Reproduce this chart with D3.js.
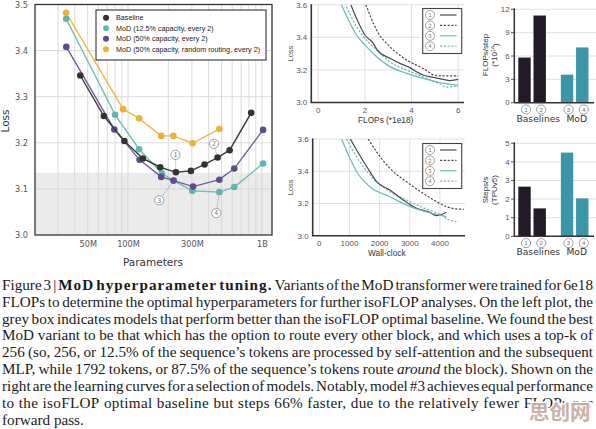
<!DOCTYPE html>
<html><head><meta charset="utf-8">
<script src="https://cdn.jsdelivr.net/npm/d3@7"></script>
<style>body{margin:0;background:#fff}svg{display:block}</style>
</head><body>
<svg id="c" width="596" height="429"></svg>
<script>
// ---------------- DATA ----------------
const seriesNames = ["Baseline","MoD (12.5% capacity, every 2)","MoD (50% capacity, every 2)","MoD (50% capacity, random routing, every 2)"];
const baselineParams = [44e6,66e6,94e6,129e6,174e6,228e6,295e6,373e6,467e6,574e6,832e6];
const baselineLoss   = [3.346,3.258,3.204,3.166,3.147,3.136,3.139,3.153,3.168,3.184,3.265];
const mod125Params   = [34.5e6,80e6,121e6,179e6,219e6,302e6,481e6,622e6,1.02e9];
const mod125Loss     = [3.469,3.261,3.186,3.134,3.118,3.096,3.093,3.104,3.155];
const mod50Params    = [34.6e6,79e6,122e6,177e6,219e6,306e6,481e6,622e6,1.02e9];
const mod50Loss      = [3.408,3.229,3.163,3.126,3.118,3.105,3.120,3.144,3.228];
const randomParams   = [34.5e6,92e6,121e6,177e6,218e6,304e6,481e6];
const randomLoss     = [3.482,3.273,3.253,3.215,3.215,3.199,3.230];
const optimalBaselineLoss = 3.135;
const paramTicks = [50e6,100e6,300e6,1e9];
const paramTickLabels = ["50M","100M","300M","1B"];
const lossTicks = [3.0,3.1,3.2,3.3,3.4,3.5];

// learning curves vs FLOPs (*1e18)
const flops1 = [1.40,1.64,2.0,2.36,2.53,3.07,3.5,3.93,4.21,4.5,4.93,5.36,5.64,5.93,6.0];
const flopsLoss1 = [3.598,3.516,3.414,3.363,3.322,3.271,3.24,3.214,3.189,3.169,3.154,3.142,3.134,3.140,3.142];
const flops2 = [2.04,2.5,3.07,3.5,3.79,4.2,4.5,4.75,4.93,5.36,5.93,6.0];
const flopsLoss2 = [3.6,3.445,3.342,3.29,3.26,3.23,3.209,3.185,3.169,3.163,3.163,3.163];
const flops3 = [1.0,1.36,1.64,2.0,2.5,3.07,3.79,4.5,5.21,5.93,6.0];
const flopsLoss3 = [3.598,3.486,3.414,3.353,3.281,3.22,3.179,3.148,3.122,3.107,3.106];
const flops4 = [1.21,1.64,2.0,2.5,3.07,3.79,4.5,5.21,5.5,5.93,6.0];
const flopsLoss4 = [3.588,3.465,3.394,3.322,3.25,3.199,3.158,3.113,3.093,3.101,3.100];
const flopsTicks = [0,2,4,6];
// learning curves vs wall-clock
const wall1 = [1015,1235,1676,1897,2338,2780,3220,3662,3882,4213];
const wallLoss1 = [3.605,3.532,3.398,3.335,3.284,3.222,3.17,3.145,3.124,3.145];
const wall2 = [1620,1900,2340,2890,3440,3890,4220,4550,4800];
const wallLoss2 = [3.6,3.52,3.418,3.335,3.263,3.211,3.18,3.166,3.164];
const wall3 = [740,1015,1235,1676,2338,2890,3440,3993,4213];
const wallLoss3 = [3.6,3.48,3.398,3.304,3.242,3.19,3.153,3.128,3.118];
const wall4 = [905,1235,1676,2338,2890,3440,3993,4323,4544];
const wallLoss4 = [3.6,3.49,3.377,3.273,3.222,3.174,3.133,3.097,3.087];
const wallTicks = [0,1000,2000,3000,4000];
const lcLossTicks = [3.0,3.2,3.4,3.6];

// bar charts
const barModels = ["1","2","3","4"];
const barGroups = ["Baselines","Baselines","MoD","MoD"];
const flopsPerStep = [5.8,11.2,3.6,7.1];
const stepsPerSec = [2.67,1.5,4.5,2.04];
const flopsStepTicks = [0,3,6,9,12];
const stepsTicks = [0,1,2,3,4,5];

// caption
const captionLines = [
 [["Figure 3 | ","r"],["MoD hyperparameter tuning.","b"],[" Variants of the MoD transformer were trained for 6e18","r"]],
 [["FLOPs to determine the optimal hyperparameters for further isoFLOP analyses. On the left plot, the","r"]],
 [["grey box indicates models that perform better than the isoFLOP optimal baseline. We found the best","r"]],
 [["MoD variant to be that which has the option to route every other block, and which uses a top-k of","r"]],
 [["256 (so, 256, or 12.5% of the sequence\u2019s tokens are processed by self-attention and the subsequent","r"]],
 [["MLP, while 1792 tokens, or 87.5% of the sequence\u2019s tokens route ","r"],["around","i"],[" the block). Shown on the","r"]],
 [["right are the learning curves for a selection of models. Notably, model #3 achieves equal performance","r"]],
 [["to the isoFLOP optimal baseline but steps 66% faster, due to the relatively fewer FLOPs per","r"]],
 [["forward pass.","r"]]
];

// ---------------- DRAW ----------------
const svg = d3.select("#c");
const SANS = "'Liberation Sans', Arial, sans-serif";
const DV = "'DejaVu Sans', sans-serif";
const C = {base:"#333333", teal:"#64b5b0", purple:"#5e4c8e", gold:"#e9b335", grid:"#d6d6d6", tick:"#555"};

function circNum(g, x, y, n, r, fs){
  const gg = g.append("g").attr("transform",`translate(${x},${y})`);
  gg.append("circle").attr("r",r).attr("fill","#fff").attr("stroke","#888").attr("stroke-width",0.8);
  gg.append("text").attr("text-anchor","middle").attr("dy","0.36em").attr("font-family",SANS)
    .attr("font-size",fs).attr("fill","#777").text(n);
}

// ===== Main chart =====
const mx = d3.scaleLog().domain([20.2e6,1.19e9]).range([35,272]);
const my = d3.scaleLinear().domain([3.0,3.5]).range([235,4.5]);
const main = svg.append("g");
main.append("rect").attr("x",35).attr("y",my(optimalBaselineLoss)).attr("width",237)
  .attr("height",my(3.0)-my(optimalBaselineLoss)).attr("fill","#ebebeb");
const minor = [];
for (let d=1e7; d<=1e9; d*=10) for (let k=1;k<=9;k++){ const v=k*d; if (v>mx.domain()[0] && v<mx.domain()[1]) minor.push(v); }
main.selectAll(".vg").data(minor).join("line").attr("x1",d=>mx(d)).attr("x2",d=>mx(d))
  .attr("y1",my(3.5)).attr("y2",my(3.0)).attr("stroke",C.grid).attr("stroke-width",0.9);
main.selectAll(".hg").data(lossTicks.slice(1,-1)).join("line").attr("x1",35).attr("x2",272)
  .attr("y1",d=>my(d)).attr("y2",d=>my(d)).attr("stroke",C.grid).attr("stroke-width",0.9);
const xa = main.append("g").attr("transform",`translate(0,${my(3.0)})`)
  .call(d3.axisBottom(mx).tickValues(paramTicks).tickFormat((d,i)=>paramTickLabels[i]).tickSize(0).tickPadding(6));
const ya = main.append("g").attr("transform",`translate(35,0)`)
  .call(d3.axisLeft(my).tickValues(lossTicks).tickFormat(d3.format(".1f")).tickSize(0).tickPadding(7));
[xa,ya].forEach(a=>{a.select(".domain").remove(); a.selectAll("text").attr("font-family",DV).attr("font-size",8.2).attr("fill",C.tick);});
main.append("text").attr("transform","translate(9,121) rotate(-90)").attr("text-anchor","middle")
  .attr("font-family",DV).attr("font-size",10.5).attr("fill","#333").text("Loss");
main.append("text").attr("x",153).attr("y",266).attr("text-anchor","middle")
  .attr("font-family",DV).attr("font-size",10.5).attr("fill","#333").text("Parameters");

const series = [
  {x:baselineParams,y:baselineLoss,c:C.base,lc:"#3a3a3a"},
  {x:mod125Params,y:mod125Loss,c:C.teal,lc:"#72bcb7"},
  {x:mod50Params,y:mod50Loss,c:C.purple,lc:"#6d5f98"},
  {x:randomParams,y:randomLoss,c:C.gold,lc:"#ecbb48"}
];
const lineGen = d3.line().x(d=>mx(d[0])).y(d=>my(d[1]));
[3,1,2,0].forEach(i=>{
  const s = series[i]; const pts = s.x.map((v,j)=>[v,s.y[j]]);
  main.append("path").attr("d",lineGen(pts)).attr("fill","none").attr("stroke",s.lc).attr("stroke-width",1.4);
  main.selectAll(null).data(pts).join("circle").attr("cx",d=>mx(d[0])).attr("cy",d=>my(d[1])).attr("r",3.3).attr("fill",s.c);
});
main.append("rect").attr("x",35).attr("y",my(3.5)).attr("width",237).attr("height",my(3.0)-my(3.5))
  .attr("fill","none").attr("stroke","#333").attr("stroke-width",1.3);
// annotations
const ann = [
  {s:0,i:5,n:"1",dx:-0.5,dy:-17.5},
  {s:0,i:8,n:"2",dx:-3.6,dy:-13.7},
  {s:1,i:4,n:"3",dx:-14.3,dy:19.7},
  {s:1,i:6,n:"4",dx:-3,dy:21}
];
ann.forEach(a=>{
  const s=series[a.s]; const px=mx(s.x[a.i]), py=my(s.y[a.i]);
  const cx=px+a.dx, cy=py+a.dy; const L=Math.hypot(a.dx,a.dy);
  main.append("line").attr("x1",cx-a.dx/L*4.6).attr("y1",cy-a.dy/L*4.6)
    .attr("x2",px+a.dx/L*3.5).attr("y2",py+a.dy/L*3.5)
    .attr("stroke","#777").attr("stroke-width",0.8).attr("stroke-dasharray","1,1.2");
  circNum(main,cx,cy,a.n,4.6,6.3);
});
// legend
const lg = main.append("g");
lg.append("rect").attr("x",96).attr("y",10).attr("width",170).attr("height",50).attr("fill","#fff")
  .attr("stroke","#333").attr("stroke-width",1.1);
seriesNames.forEach((nm,i)=>{
  const yy = 17.7 + i*10.55;
  lg.append("circle").attr("cx",106).attr("cy",yy).attr("r",3).attr("fill",series[i].c);
  lg.append("text").attr("x",116).attr("y",yy).attr("dy","0.35em").attr("font-family",SANS)
    .attr("font-size",7.2).attr("fill","#222").text(nm);
});

// ===== learning curves =====
function drawLC(cfg){
  const g = svg.append("g");
  const x = d3.scaleLinear().domain(cfg.xd).range(cfg.xr);
  const y = d3.scaleLinear().domain([3.0,3.6]).range(cfg.yr);
  g.selectAll(null).data(cfg.xt).join("line").attr("x1",d=>x(d)).attr("x2",d=>x(d))
    .attr("y1",cfg.yr[1]).attr("y2",cfg.yr[0]).attr("stroke","#dcdcdc").attr("stroke-width",0.9);
  g.selectAll(null).data(lcLossTicks.slice(1)).join("line").attr("x1",cfg.xr[0]).attr("x2",cfg.xr[1])
    .attr("y1",d=>y(d)).attr("y2",d=>y(d)).attr("stroke","#dcdcdc").attr("stroke-width",0.9);
  const cid = "clip"+cfg.id;
  g.append("clipPath").attr("id",cid).append("rect").attr("x",cfg.xr[0]).attr("y",cfg.yr[1])
    .attr("width",cfg.xr[1]-cfg.xr[0]).attr("height",cfg.yr[0]-cfg.yr[1]);
  const lg2 = d3.line().x(d=>x(d[0])).y(d=>y(d[1])).curve(d3.curveMonotoneX);
  const styles = [{c:"#4a4a4a",d:null},{c:"#4a4a4a",d:"2.2,1.6"},{c:"#6bbab5",d:null},{c:"#6bbab5",d:"2.2,1.6"}];
  [1,3,0,2].forEach(i=>{
    const pts = cfg.xs[i].map((v,j)=>[v,cfg.ys[i][j]]);
    g.append("path").attr("clip-path",`url(#${cid})`).attr("d",lg2(pts)).attr("fill","none")
      .attr("stroke",styles[i].c).attr("stroke-width",1.2).attr("stroke-dasharray",styles[i].d);
  });
  g.append("line").attr("x1",cfg.xr[0]).attr("x2",cfg.xr[0]).attr("y1",cfg.yr[1]-0.5).attr("y2",cfg.yr[0])
    .attr("stroke","#333").attr("stroke-width",1.6);
  g.append("line").attr("x1",cfg.xr[0]-0.8).attr("x2",cfg.xr[1]).attr("y1",cfg.yr[0]).attr("y2",cfg.yr[0])
    .attr("stroke","#333").attr("stroke-width",1.6);
  g.selectAll(null).data(cfg.xt).join("text").attr("x",d=>x(d)).attr("y",cfg.yr[0]+10.5)
    .attr("text-anchor","middle").attr("font-family",SANS).attr("font-size",8).attr("fill",C.tick).text(d=>d);
  g.selectAll(null).data(lcLossTicks).join("text").attr("x",cfg.xr[0]-4).attr("y",d=>y(d)).attr("dy","0.35em")
    .attr("text-anchor","end").attr("font-family",SANS).attr("font-size",8).attr("fill",C.tick).text(d=>d.toFixed(1));
  g.append("text").attr("x",(cfg.xr[0]+cfg.xr[1])/2-2).attr("y",cfg.yr[0]+20).attr("text-anchor","middle")
    .attr("font-family",SANS).attr("font-size",8.3).attr("fill","#333").text(cfg.xlabel);
  g.append("text").attr("transform",`translate(293,${(cfg.yr[0]+cfg.yr[1])/2}) rotate(-90)`).attr("text-anchor","middle")
    .attr("font-family",SANS).attr("font-size",7.5).attr("fill","#555").text("Loss");
  const ly = cfg.legY;
  g.append("rect").attr("x",422.7).attr("y",ly-6.5).attr("width",39).attr("height",45).attr("fill","#fff")
    .attr("stroke","#444").attr("stroke-width",1.1);
  ["1","2","3","4"].forEach((n,i)=>{
    const yy = ly + i*10.4;
    circNum(g,430,yy,n,4.5,6);
    g.append("line").attr("x1",440).attr("x2",456.5).attr("y1",yy).attr("y2",yy)
      .attr("stroke",styles[i].c).attr("stroke-width",1.2).attr("stroke-dasharray",styles[i].d);
  });
}
drawLC({id:"a",xd:[-0.3,6.25],xr:[311.3,464],yr:[102.5,4.7],xt:flopsTicks,xlabel:"FLOPs (*1e18)",
  xs:[flops1,flops2,flops3,flops4],ys:[flopsLoss1,flopsLoss2,flopsLoss3,flopsLoss4],legY:15});
drawLC({id:"b",xd:[-219,4830],xr:[312.7,465],yr:[235.7,139],xt:wallTicks,xlabel:"Wall-clock",
  xs:[wall1,wall2,wall3,wall4],ys:[wallLoss1,wallLoss2,wallLoss3,wallLoss4],legY:150});

// ===== bar charts =====
function drawBars(cfg){
  const g = svg.append("g");
  const y = d3.scaleLinear().domain(cfg.yd).range(cfg.yr);
  const pos = barModels.map((m,i)=> i + (barGroups[i]==="MoD" ? 0.8 : 0));
  const x = d3.scaleLinear().domain([0,1]).range([524.5,539.7]);
  g.selectAll(null).data(cfg.ticks.slice(1)).join("line").attr("x1",514.3).attr("x2",596)
    .attr("y1",d=>y(d)).attr("y2",d=>y(d)).attr("stroke","#dcdcdc").attr("stroke-width",0.9);
  g.selectAll(null).data(cfg.vals).join("rect").attr("x",(d,i)=>x(pos[i])-6.2).attr("width",12.4)
    .attr("y",d=>y(d)).attr("height",d=>y(0)-y(d))
    .attr("fill",(d,i)=>barGroups[i]==="MoD" ? "#3b96aa" : "#221b27");
  g.append("line").attr("x1",514.3).attr("x2",514.3).attr("y1",cfg.yr[1]-1).attr("y2",cfg.yr[0]).attr("stroke","#333").attr("stroke-width",1.5);
  g.append("line").attr("x1",514.3).attr("x2",594).attr("y1",cfg.yr[0]).attr("y2",cfg.yr[0]).attr("stroke","#333").attr("stroke-width",1.5);
  g.selectAll(null).data(cfg.ticks).join("line").attr("x1",511).attr("x2",514.3).attr("y1",d=>y(d)).attr("y2",d=>y(d)).attr("stroke","#333").attr("stroke-width",0.8);
  g.selectAll(null).data(cfg.ticks).join("text").attr("x",509.5).attr("y",d=>y(d)).attr("dy","0.35em")
    .attr("text-anchor","end").attr("font-family",SANS).attr("font-size",7.8).attr("fill",C.tick).text(d=>d);
  barModels.forEach((m,i)=> circNum(g,x(pos[i])+1.5,cfg.yr[0]+6.8,m,4.6,6.2));
  g.append("text").attr("x",538.3).attr("y",cfg.yr[0]+18.8).attr("text-anchor","middle").attr("font-family",DV)
    .attr("font-size",9.2).attr("fill","#333").text("Baselines");
  g.append("text").attr("x",576.7).attr("y",cfg.yr[0]+18.8).attr("text-anchor","middle").attr("font-family",DV)
    .attr("font-size",9.2).attr("fill","#333").text("MoD");
  const t = g.append("text").attr("transform",`translate(${cfg.lx},${cfg.ly}) rotate(-90)`).attr("text-anchor","middle")
    .attr("font-family",SANS).attr("font-size",8).attr("fill","#333");
  t.append("tspan").attr("x",0).attr("dy",0).text(cfg.l1);
  const t2 = t.append("tspan").attr("x",0).attr("dy","1.15em");
  t2.append("tspan").text(cfg.l2a);
  if (cfg.l2sup){ t2.append("tspan").attr("dy","-0.35em").attr("font-size",5.5).text(cfg.l2sup);
                  t2.append("tspan").attr("dy","0.35em").text(cfg.l2b); }
}
drawBars({yd:[0,12],yr:[102.7,9.3],ticks:flopsStepTicks,vals:flopsPerStep,lx:488,ly:55,l1:"FLOPs/step",l2a:"(*10",l2sup:"14",l2b:")"});
drawBars({yd:[0,5],yr:[236.3,143.3],ticks:stepsTicks,vals:stepsPerSec,lx:488,ly:190,l1:"Steps/s",l2a:"(TPUv5)"});

// ===== caption =====
const cap = svg.append("g");
const SERIF = "'Liberation Serif','Times New Roman',serif";
const X0 = 2, X1 = 593, W = X1-X0, B0 = 289.6, LH = 16.95, FS = 15.2;
const BOLD_LS = 1.05;
function styleText(sel, st, ls){
  sel.attr("font-family",SERIF).attr("font-size",FS).attr("fill","#1a1a1a")
     .attr("font-weight", st==="b" ? "bold" : "normal").attr("font-style", st==="i" ? "italic" : "normal")
     .attr("letter-spacing", st==="b" ? BOLD_LS : ls);
}
const words = captionLines.map(line=>{
  const out=[]; let prevEndsSpace = true;
  line.forEach(([txt,st])=>{
    const parts = txt.split(" ");
    parts.forEach((p,k)=>{
      if (p==="") return;
      if (k===0 && out.length && !prevEndsSpace) out[out.length-1].segs.push([p,st]);
      else out.push({segs:[[p,st]]});
    });
    prevEndsSpace = txt.endsWith(" ");
  });
  return out;
});
const meas = svg.append("g");
function rawW(p, st){
  const s=meas.append("text").text(p); styleText(s,st,0); s.attr("letter-spacing",0);
  const w=s.node().getComputedTextLength(); s.remove(); return w;
}
const targetGap = 4.3;
words.forEach((ws,li)=>{
  const last = li===words.length-1;
  let tw=0, nc=0;
  ws.forEach(w=>w.segs.forEach(([p,st])=>{ tw += rawW(p,st) + (st==="b"?BOLD_LS*p.length:0); if (st!=="b") nc+=p.length; }));
  let ls = last ? 0 : Math.max(0, Math.min(0.7, (W - tw - (ws.length-1)*targetGap)/nc));
  const widths = ws.map(w=>d3.sum(w.segs,([p,st])=>rawW(p,st) + (st==="b"?BOLD_LS:ls)*p.length));
  const tot = d3.sum(widths);
  const gap = last ? 3.8 : (W-tot)/(ws.length-1);
  let xx = X0;
  ws.forEach((w,k)=>{
    const t = cap.append("text").attr("x",xx).attr("y",B0+li*LH);
    styleText(t,"r",ls);
    w.segs.forEach(([p,st])=>{ const s=t.append("tspan").text(p); styleText(s,st,ls); });
    xx += widths[k] + gap;
  });
});
meas.remove();
// watermark
svg.append("text").attr("x",529).attr("y",420).attr("font-family","'Noto Sans CJK SC',sans-serif").attr("font-weight",700)
  .attr("font-size",20.5).attr("fill","#c7aea3").attr("stroke","#fff").attr("stroke-width",3).attr("paint-order","stroke")
  .attr("opacity",0.95).text("思创网");
</script>
</body></html>
